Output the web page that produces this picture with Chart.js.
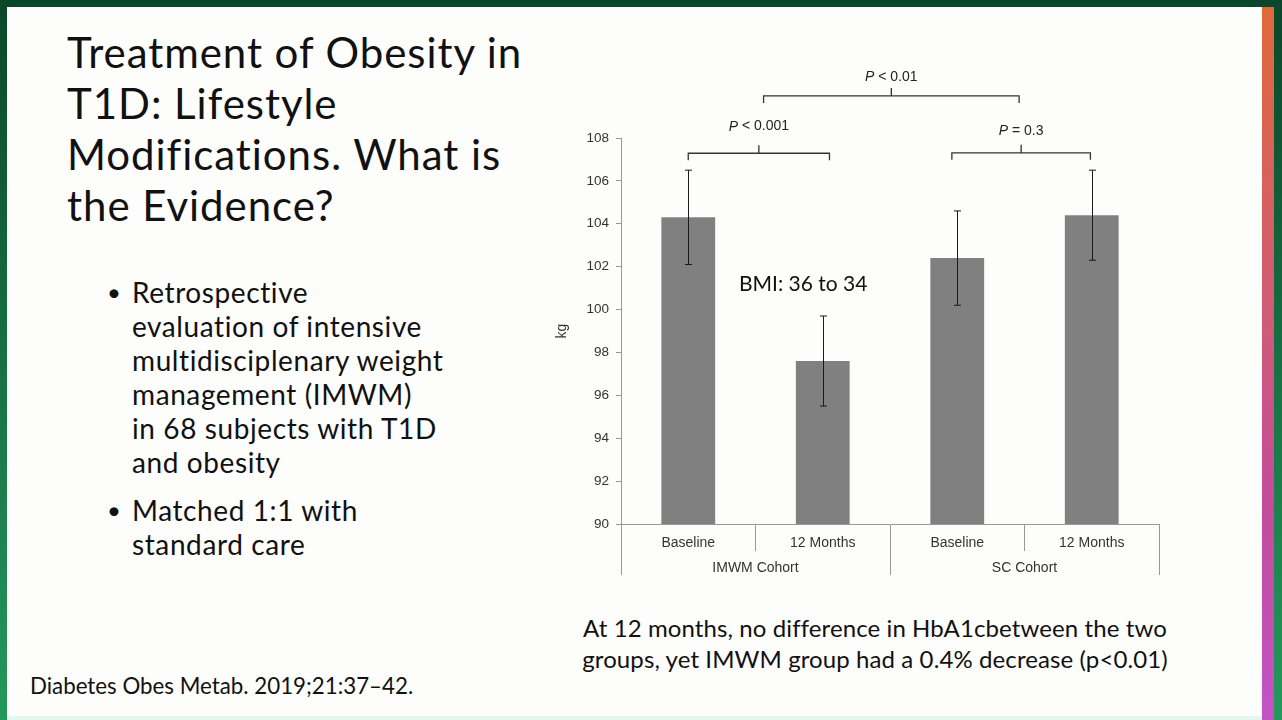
<!DOCTYPE html>
<html>
<head>
<meta charset="utf-8">
<script src="https://cdn.jsdelivr.net/npm/chart.js@4.4.1/dist/chart.umd.min.js"></script>
<style>
html, body { margin: 0; padding: 0; }
body { width: 1282px; height: 720px; position: relative; overflow: hidden;
       background: linear-gradient(#0a472a, #24995c); font-family: Lato, "Open Sans", sans-serif; color: #111; }
#slide { position: absolute; left: 7px; top: 7px; width: 1255px; height: 709px; background: #fdfdfb; }
#stripe { position: absolute; left: 1262px; top: 7px; width: 12px; height: 713px;
          background: linear-gradient(#e0693a, #cf5a78 45%, #c24c9a 70%, #c253c6); }
#bottomEdge { position: absolute; left: 7px; top: 716px; width: 1255px; height: 4px; background: #e3f7f0; }
.txt { position: absolute; white-space: nowrap; }
#title { left: 67px; top: 27px; font-size: 42px; line-height: 51px; font-weight: 400; letter-spacing: 0.95px; }
.bullet { position: absolute; left: 107px; font-size: 24px; line-height: 34px; }
.btext { position: absolute; left: 132px; font-size: 28px; line-height: 34px; letter-spacing: 0.6px; }
#bmi { left: 739px; top: 270px; font-size: 21px; line-height: 26px; }
#note { left: 475px; width: 800px; top: 612px; font-size: 24px; line-height: 31px; text-align: center; letter-spacing: 0.1px; }
#cite { left: 30px; top: 673px; font-size: 22.3px; line-height: 26px; }
#chart { position: absolute; left: 540px; top: 60px; }
</style>
</head>
<body>
<div id="slide"></div>
<div id="stripe"></div>
<div id="bottomEdge"></div>

<div class="txt" id="title">Treatment of Obesity in<br>T1D: Lifestyle<br>Modifications. What is<br>the Evidence?</div>

<div class="txt bullet" style="top:275px">•</div>
<div class="txt btext" style="top:275px">Retrospective<br>evaluation of intensive<br>multidisciplenary weight<br>management (IMWM)<br>in 68 subjects with T1D<br>and obesity</div>
<div class="txt bullet" style="top:493px">•</div>
<div class="txt btext" style="top:493px">Matched 1:1 with<br>standard care</div>

<canvas id="chart" width="640" height="540"></canvas>

<div class="txt" id="bmi">BMI: 36 to 34</div>
<div class="txt" id="note">At 12 months, no difference in HbA1cbetween the two<br>groups, yet IMWM group had a 0.4% decrease (p&lt;0.01)</div>
<div class="txt" id="cite">Diabetes Obes Metab. 2019;21:37–42.</div>

<script>
// chart data
var subLabels = ['Baseline', '12 Months', 'Baseline', '12 Months'];
var cohortLabels = ['IMWM Cohort', 'SC Cohort'];
var weightKg = [104.3, 97.6, 102.4, 104.4];
var errLow = [102.1, 95.5, 100.2, 102.3];
var errHigh = [106.5, 99.7, 104.6, 106.5];
var yMin = 90, yMax = 108, yStep = 2;

// significance brackets: from / to in category units, level in kg
var bracketFrom = [0, 1.96, 0.56];
var bracketTo = [1.05, 2.99, 2.46];
var bracketAt = [107.29, 107.31, 109.96];
var bracketLabelAt = [108.53, 108.33, 110.86];
var bracketText = [' < 0.001', ' = 0.3', ' < 0.01'];

var axisFont = { family: 'Liberation Sans', size: 14 };

function catPixel(scale, v) {
    var p0 = scale.getPixelForValue(0);
    var p1 = scale.getPixelForValue(1);
    return p0 + v * (p1 - p0);
}

// vertical error bars with small caps
var errorBarsPlugin = {
    id: 'errorBars',
    afterDatasetsDraw: function(chart) {
        var meta = chart.getDatasetMeta(0);
        var y = chart.scales.y;
        var c = chart.ctx;
        c.save();
        c.strokeStyle = '#1a1a1a';
        c.lineWidth = 1;
        meta.data.forEach(function(bar, i) {
            var x = Math.round(bar.x) + 0.5;
            var top = y.getPixelForValue(errHigh[i]);
            var bot = y.getPixelForValue(errLow[i]);
            c.beginPath();
            c.moveTo(x, top); c.lineTo(x, bot);
            c.moveTo(x - 3.5, top); c.lineTo(x + 3.5, top);
            c.moveTo(x - 3.5, bot); c.lineTo(x + 3.5, bot);
            c.stroke();
        });
        c.restore();
    }
};

// P-value brackets above the bars
var bracketPlugin = {
    id: 'brackets',
    afterDraw: function(chart) {
        var xs = chart.scales.x;
        var y = chart.scales.y;
        var c = chart.ctx;
        c.save();
        c.strokeStyle = '#333';
        c.lineWidth = 1.3;
        c.fillStyle = '#222';
        for (var i = 0; i < bracketFrom.length; i++) {
            var x1 = catPixel(xs, bracketFrom[i]);
            var x2 = catPixel(xs, bracketTo[i]);
            var by = y.getPixelForValue(bracketAt[i]);
            var mid = (x1 + x2) / 2;
            c.beginPath();
            c.moveTo(x1, by + 7); c.lineTo(x1, by); c.lineTo(x2, by); c.lineTo(x2, by + 7);
            c.moveTo(mid, by); c.lineTo(mid, by - 8);
            c.stroke();

            var ly = y.getPixelForValue(bracketLabelAt[i]);
            c.font = 'italic 14px "Liberation Sans"';
            var wP = c.measureText('P').width;
            c.font = '14px "Liberation Sans"';
            var wR = c.measureText(bracketText[i]).width;
            var lx = mid - (wP + wR) / 2;
            c.textBaseline = 'middle';
            c.textAlign = 'left';
            c.font = 'italic 14px "Liberation Sans"';
            c.fillText('P', lx, ly);
            c.font = '14px "Liberation Sans"';
            c.fillText(bracketText[i], lx + wP, ly);
        }
        c.restore();
    }
};

var ctx = document.getElementById('chart').getContext('2d');
var weightChart = new Chart(ctx, {
    type: 'bar',
    data: {
        labels: subLabels,
        datasets: [{
            data: weightKg,
            backgroundColor: '#808080',
            categoryPercentage: 1,
            barPercentage: 0.4,
            xAxisID: 'x',
            yAxisID: 'y'
        }]
    },
    options: {
        responsive: false,
        animation: false,
        layout: { padding: { top: 78, right: 21, bottom: 25, left: 0 } },
        plugins: {
            legend: { display: false },
            tooltip: { enabled: false }
        },
        scales: {
            y: {
                min: yMin,
                max: yMax,
                ticks: { stepSize: yStep, color: '#333', font: { family: 'Liberation Sans', size: 13.5 }, padding: 7 },
                grid: { drawOnChartArea: false, tickLength: 5, color: '#999' },
                border: { color: '#999' },
                title: { display: true, text: 'kg', color: '#333', font: axisFont, padding: { top: 14, bottom: 0 } },
                afterFit: function(scale) { scale.width = 81; }
            },
            x: {
                position: 'bottom',
                offset: true,
                grid: { offset: true, drawOnChartArea: false, tickLength: 27, color: '#999' },
                border: { color: '#999' },
                ticks: { padding: -16, color: '#333', font: axisFont },
                afterFit: function(scale) { scale.height = 27; }
            },
            x2: {
                type: 'category',
                labels: cohortLabels,
                position: 'bottom',
                offset: true,
                grid: { offset: true, drawOnChartArea: false, tickLength: 24, color: '#999' },
                border: { display: false },
                ticks: { padding: -15, color: '#333', font: axisFont },
                afterFit: function(scale) { scale.height = 24; }
            }
        }
    },
    plugins: [errorBarsPlugin, bracketPlugin]
});
</script>
</body>
</html>
